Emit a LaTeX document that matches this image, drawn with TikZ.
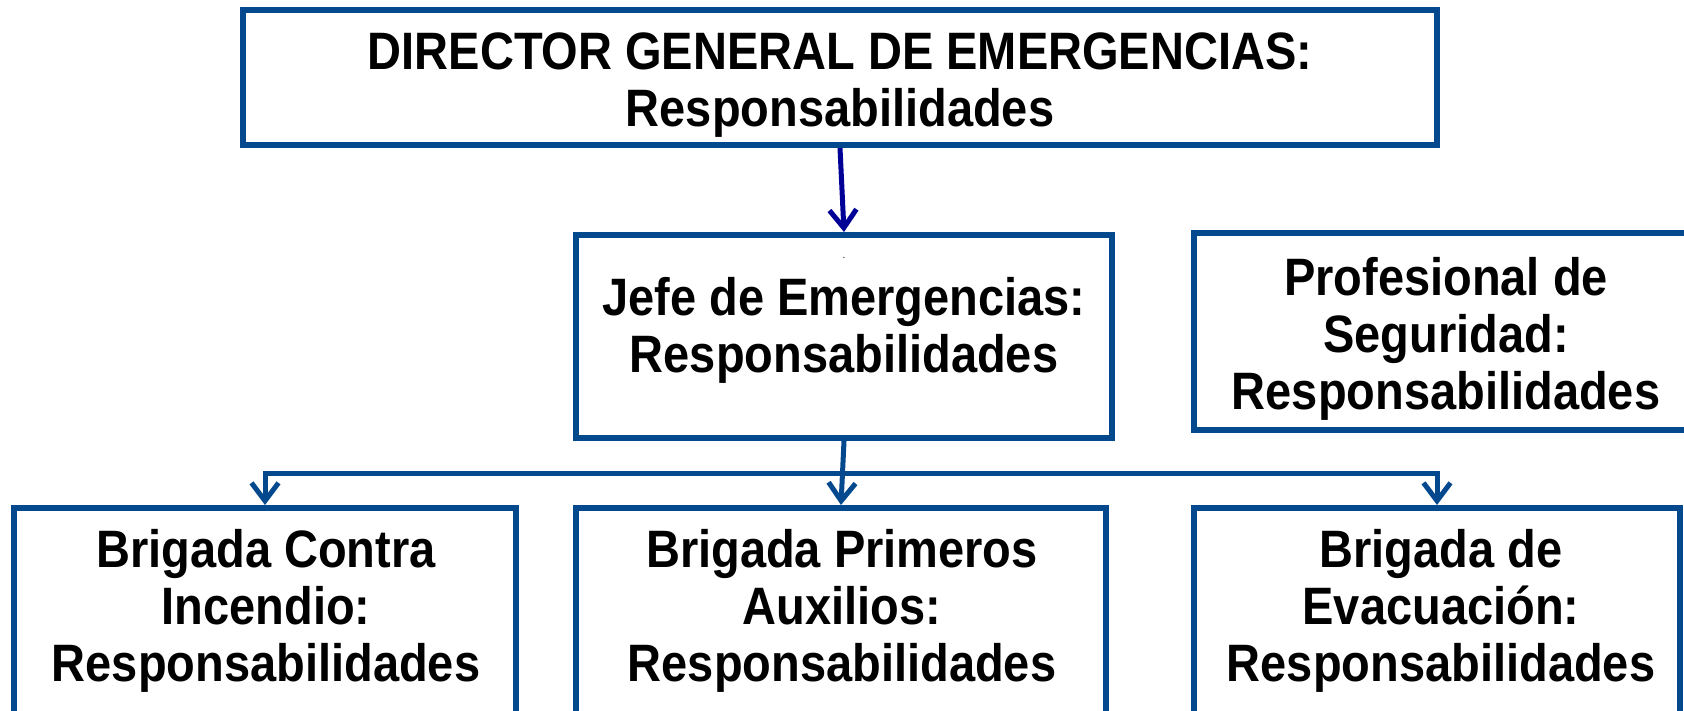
\documentclass[tikz,border=0pt]{standalone}
\usepackage{fontspec}
\setmainfont{Liberation Sans}
\usetikzlibrary{arrows.meta}
\definecolor{boxblue}{RGB}{4,72,142}
\definecolor{arrblue}{RGB}{0,0,150}
\newcommand{\stretchtext}[1]{\scalebox{1}[1.12]{\begin{tabular}{@{}c@{}}#1\end{tabular}}}
\begin{document}
\begin{tikzpicture}[x=1pt,y=-1pt,
  box/.style={draw=boxblue,line width=6pt,rectangle,inner sep=0pt},
  txt/.style={font=\bfseries\fontsize{47}{51}\selectfont,inner sep=0pt,text=black},
  conn/.style={draw=boxblue,line width=5pt,line join=miter},
  arr/.style={conn,-{Straight Barb[length=18pt,width=27pt]}},
  toparr/.style={draw=arrblue,line width=5pt,-{Straight Barb[length=18pt,width=27pt]}}]
\useasboundingbox (0,0) rectangle (1684,710);
\clip (0,0) rectangle (1684,710);
% boxes
\node[box,minimum width=1194pt,minimum height=135pt] (dir) at (840,77.5) {};
\node[box,minimum width=536pt,minimum height=203pt] (jefe) at (844,336.5) {};
\node[box,minimum width=504pt,minimum height=197pt] (prof) at (1446,331.5) {};
\node[box,minimum width=502pt,minimum height=212pt] (bl) at (265,614) {};
\node[box,minimum width=530pt,minimum height=212pt] (bm) at (841,614) {};
\node[box,minimum width=486pt,minimum height=212pt] (br) at (1437,614) {};
% texts
\node[txt] (dirT) at (840,87) {\stretchtext{DIRECTOR GENERAL DE EMERGENCIAS:\\Responsabilidades}};
\node[txt] (jefeT) at (844,333) {\stretchtext{Jefe de Emergencias:\\Responsabilidades}};
\node[font=\fontsize{10}{12}\selectfont,inner sep=0pt] (jdot) at (844,258) {.};
\node[txt] (profT) at (1446,341) {\stretchtext{Profesional de\\Seguridad:\\Responsabilidades}};
\node[txt] (blT) at (266,613) {\stretchtext{Brigada Contra\\Incendio:\\Responsabilidades}};
\node[txt] (bmT) at (842,613) {\stretchtext{Brigada Primeros\\Auxilios:\\Responsabilidades}};
\node[txt] (brT) at (1441,613) {\stretchtext{Brigada de\\Evacuación:\\Responsabilidades}};
% connectors
\coordinate (bus) at (0,473);
\draw[toparr] (dir.south) -- (jefe.north);
\draw[arr] (jefe.south) -- (bm.north);
\draw[arr] (jefe.south |- bus) -- (bl.north |- bus) -- (bl.north);
\draw[arr] (jefe.south |- bus) -- (br.north |- bus) -- (br.north);
\end{tikzpicture}
\end{document}
